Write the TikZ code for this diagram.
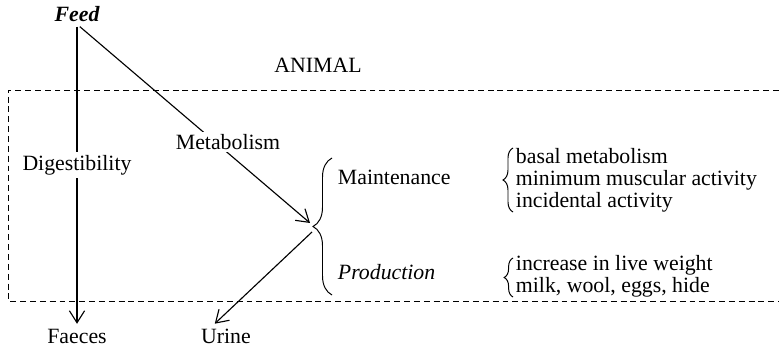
\documentclass[tikz,border=0pt]{standalone}
\usepackage{fontspec}
\setmainfont{Liberation Serif}
\usepackage{tikz}
\usetikzlibrary{arrows.meta,decorations.pathreplacing}

\begin{document}
\begin{tikzpicture}[x=0.025cm,y=-0.025cm,
        every node/.style={font=\fontsize{15.5}{15.6}\selectfont},
        flow/.style={line width=0.8pt,-{Straight Barb[length=3mm,width=3.8mm]}},
        onpath/.style={fill=white,inner sep=2pt},
        curly/.style={decorate,decoration={brace,amplitude=#1},line width=0.7pt}]
    \useasboundingbox (0,0) rectangle (779,348);
    \def\animalbox{(779,90) -- (8,90) -- (8,301) -- (779,301)}
    \draw[dash pattern=on 4.2pt off 2.8pt,line width=0.6pt] \animalbox;
    \node (animal) at (318,65) {ANIMAL};
    \node (feed) at (77,14) {\bfseries\itshape Feed};
    \node (faeces) at (77,336) {Faeces};
    \node (urine) at (226,336) {Urine};
    % maintenance / production split
    \draw[curly=0.475cm] (332,295) -- (332,158);
    \coordinate (hub) at (313,227);
    \draw[flow] (feed.south) -- (faeces.north);
    \draw[flow] ([xshift=2pt]feed.south) -- ([shift={(-3,-4)}]hub);
    \draw[flow] ([shift={(-1,5)}]hub) -- ([xshift=-8pt]urine.north);
    \node[onpath] (digest) at (77,165) {Digestibility};
    \node[onpath] (metab) at (228,142) {Metabolism};
    \node[anchor=west] (maint) at (333,177) {Maintenance};
    \node[anchor=west] (prod) at (333,272) {\itshape Production};
    \draw[curly=0.25cm] (513,212) -- (513,148);
    \draw[curly=0.22cm] (513,297) -- (513,258);
    \node[anchor=west,align=left] (maintlist) at (511,180)
        {basal metabolism\\minimum muscular activity\\incidental activity};
    \node[anchor=west,align=left] (prodlist) at (511,276)
        {increase in live weight\\milk, wool, eggs, hide};
\end{tikzpicture}
\end{document}
